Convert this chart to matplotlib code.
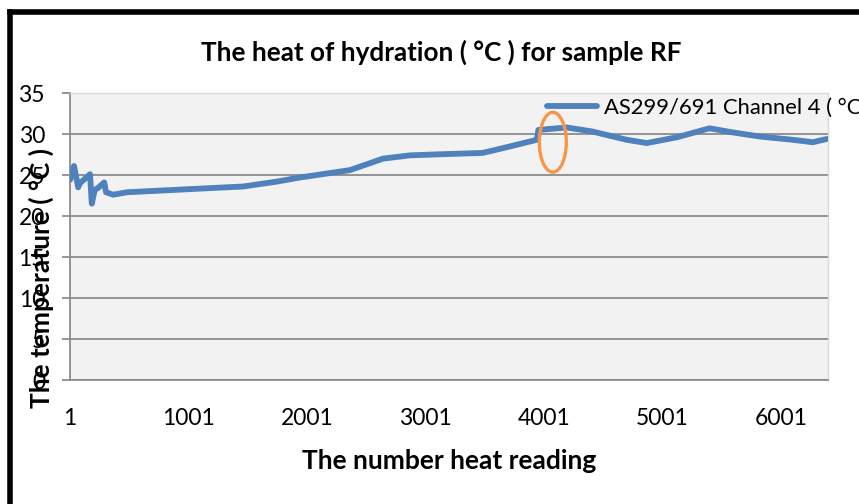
import matplotlib.pyplot as plt
from matplotlib.patches import Ellipse
from matplotlib.lines import Line2D

plt.rcParams['font.family'] = ['Lato', 'DejaVu Sans']

# readings (reading number, temperature in degC)
reading = [1, 35, 70, 85, 170, 185, 210, 235, 290, 305, 365, 482, 1039, 1461,
           1748, 1942, 2364, 2643, 2870, 3064, 3486, 3690, 3942, 3955, 4195,
           4414, 4700, 4870, 5123, 5400, 5596, 5823, 6100, 6272, 6390]
temp = [24.4, 26.1, 23.5, 24.0, 25.1, 21.5, 23.2, 23.4, 24.1, 22.9, 22.6, 22.9,
        23.3, 23.6, 24.2, 24.7, 25.6, 27.0, 27.4, 27.5, 27.7, 28.4, 29.3, 30.5,
        30.8, 30.3, 29.3, 28.9, 29.6, 30.7, 30.2, 29.7, 29.3, 29.0, 29.4]

xticks = [1, 1001, 2001, 3001, 4001, 5001, 6001]
yticks = [0, 5, 10, 15, 20, 25, 30, 35]
series_name = 'AS299/691 Channel 4 ( °C'

fig = plt.figure(figsize=(8.59, 5.04), dpi=100)
ax = fig.add_axes([0.0815, 0.246, 0.8824, 0.5694])
ax.set_facecolor('#F2F2F2')

ax.plot(reading, temp, color='#4F81BD', lw=4.2, label=series_name,
        solid_joinstyle='round', solid_capstyle='round', zorder=3)

# orange highlight ring
ax.add_patch(Ellipse((4077, 29.0), 228, 7.3, fill=False, ec='#F79646',
                     lw=2.4, zorder=4))

ax.set_xlim(1, 6400)
ax.set_ylim(0, 35)
ax.set_xticks(xticks)
ax.set_yticks(yticks)
ax.grid(axis='y', color='#8C8C8C', lw=1.3)
ax.set_axisbelow(True)

for s in ['top', 'right']:
    ax.spines[s].set_color('#D9D9D9')
    ax.spines[s].set_linewidth(1.0)
for s in ['left', 'bottom']:
    ax.spines[s].set_color('#8C8C8C')
    ax.spines[s].set_linewidth(1.3)

ax.tick_params(axis='y', length=6, width=1.3, color='#8C8C8C', pad=12,
               labelsize=16.5)
ax.tick_params(axis='x', length=0, pad=20, labelsize=16.5)

fig.text(441 / 859, 1 - 52 / 504, 'The heat of hydration ( °C ) for sample RF',
         fontsize=18.8, fontweight='bold', ha='center', va='center')
fig.text(449 / 859, 1 - 461 / 504, 'The number heat reading', fontsize=19,
         fontweight='bold', ha='center', va='center')
fig.text(41 / 859, 1 - 278 / 504, 'The temperature ( °C )', rotation=90,
         fontsize=19, fontweight='bold', ha='center', va='center')

ax.legend(loc='center left', bbox_to_anchor=(547 / 859, 1 - 108 / 504),
          bbox_transform=fig.transFigure, frameon=False, fontsize=15.8,
          handlelength=2.3, handletextpad=0.3, borderpad=0, borderaxespad=0)

# black frame on left and top edge
fig.add_artist(Line2D([10 / 859, 10 / 859], [0, 1 - 12 / 504], color='black',
                      lw=4, transform=fig.transFigure, solid_joinstyle='round'))
fig.add_artist(Line2D([10 / 859, 1], [1 - 12 / 504, 1 - 12 / 504],
                      color='black', lw=4, transform=fig.transFigure))

fig.savefig('out.png', dpi=100)
